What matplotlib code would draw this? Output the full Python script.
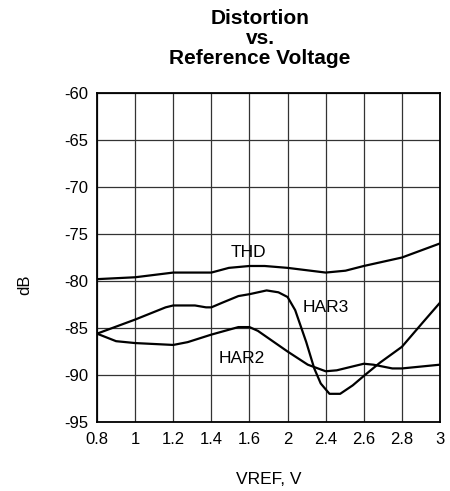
import matplotlib
matplotlib.use("Agg")
from matplotlib import pyplot as plt

# tick labels of the x axis (gridlines are evenly spaced, labels are not)
x_labels = ["0.8", "1", "1.2", "1.4", "1.6", "2", "2.4", "2.6", "2.8", "3"]
y_ticks = [-95, -90, -85, -80, -75, -70, -65, -60]

# curves, x given in gridline units (0 = "0.8" ... 9 = "3")
thd_x = [0, 1, 2, 3, 3.46, 4, 4.4, 5, 6, 6.52, 7, 8, 9]
thd_y = [-79.8, -79.6, -79.1, -79.1, -78.6, -78.4, -78.4, -78.6, -79.1, -78.9, -78.4, -77.5, -76.0]

har3_x = [0, 1, 1.8, 2, 2.57, 2.86, 3, 3.29, 3.71, 4, 4.45, 4.76, 5, 5.2, 5.49, 5.7,
          5.87, 6.1, 6.38, 6.71, 7, 7.42, 8, 8.55, 9]
har3_y = [-85.6, -84.1, -82.8, -82.6, -82.6, -82.8, -82.8, -82.3, -81.6, -81.4, -81.0, -81.2,
          -81.7, -83.1, -86.5, -89.3, -90.9, -92.0, -92.0, -91.1, -90.1, -88.7, -87.0, -84.4, -82.3]

har2_x = [0, 0.5, 1, 2, 2.38, 3, 3.71, 4, 4.22, 5, 5.53, 6, 6.29, 7, 7.25, 7.75, 8, 9]
har2_y = [-85.6, -86.4, -86.6, -86.8, -86.5, -85.7, -84.9, -84.9, -85.3, -87.5, -88.9, -89.6,
          -89.5, -88.8, -88.9, -89.3, -89.3, -88.9]

plt.rcParams["font.family"] = ["Liberation Sans", "DejaVu Sans"]
plt.rcParams["axes.unicode_minus"] = False

fig = plt.figure(figsize=(4.5, 4.91), dpi=100)
ax = fig.add_axes([0.2156, 0.1405, 0.7622, 0.670])

ax.plot(thd_x, thd_y, color="black", lw=1.6)
ax.plot(har3_x, har3_y, color="black", lw=1.6)
ax.plot(har2_x, har2_y, color="black", lw=1.6)

ax.text(3.97, -77.0, "THD", fontsize=12.5, ha="center", va="center")
ax.text(6.0, -82.8, "HAR3", fontsize=12.5, ha="center", va="center")
ax.text(3.8, -88.2, "HAR2", fontsize=12.5, ha="center", va="center")

ax.set_xlim(0, len(x_labels) - 1)
ax.set_ylim(-95, -60)
ax.set_xticks(range(len(x_labels)))
ax.set_xticklabels(x_labels)
ax.set_yticks(y_ticks)
ax.tick_params(axis="y", length=0, labelsize=12, pad=6)
ax.tick_params(axis="x", length=0, labelsize=12, pad=7)
ax.grid(True, color="#333333", lw=0.9)
for s in ax.spines.values():
    s.set_linewidth(1.3)

ax.set_xlabel("VREF, V", fontsize=12.5, labelpad=18)
ax.set_ylabel("dB", fontsize=12)
ax.yaxis.set_label_coords(-0.19, 0.416)

fig.text(0.578, 0.982, "Distortion\nvs.\nReference Voltage", ha="center", va="top",
         fontsize=15, fontweight="bold", linespacing=1.08)

fig.savefig("out.png", dpi=100)
